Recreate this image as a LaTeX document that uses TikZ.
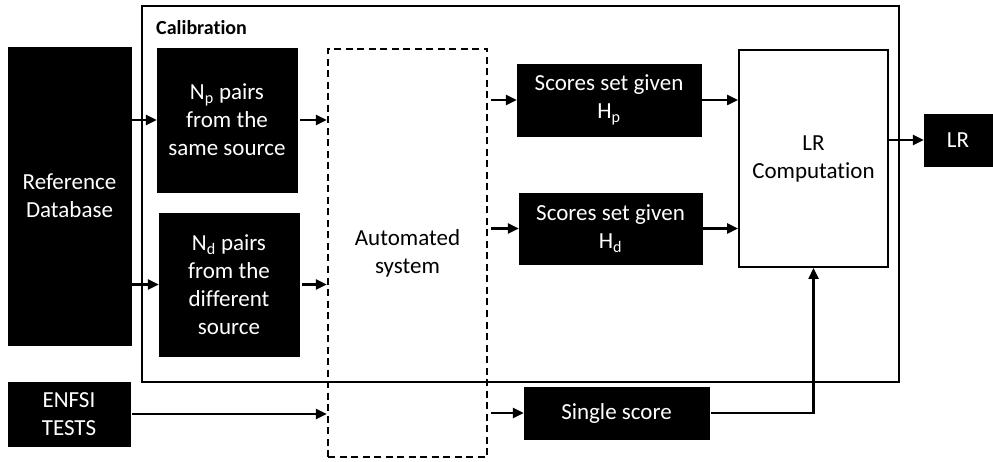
\documentclass[tikz,border=0pt]{standalone}
\usepackage{fontspec}
\setmainfont{Carlito}[Ligatures=NoCommon]
\usetikzlibrary{arrows.meta}
\begin{document}
\begin{tikzpicture}[x=1pt,y=-1pt,
  every node/.style={font=\fontsize{23}{28}\selectfont, align=center, inner sep=0pt},
  blackbox/.style={fill=black, draw=black, text=white},
  whitebox/.style={draw=black, line width=2pt, fill=white},
  dashbox/.style={draw=black, line width=2.2pt, dash pattern=on 7pt off 4.5pt},
  flow/.style={line width=2.4pt, -{Triangle[length=11pt,width=10pt]}}]
\useasboundingbox (0,0) rectangle (993,462);

% calibration frame and its title
\draw[line width=1.8pt] (142,6) rectangle (899,382);
\node[anchor=west, font=\fontsize{20}{24}\selectfont\bfseries] (caltitle) at (156,28) {Calibration};

% source boxes
\node[blackbox, minimum width=123pt, minimum height=298pt] (refdb) at (69.5,196) {Reference\\Database};
\node[blackbox, minimum width=122pt, minimum height=64pt] (enfsi) at (69,414) {ENFSI\\TESTS};

% pair sets
\node[blackbox, minimum width=140pt, minimum height=144pt] (np) at (227,120) {N\textsubscript{p} pairs\\from the\\same source};
\node[blackbox, minimum width=140pt, minimum height=143pt] (nd) at (229,284.5) {N\textsubscript{d} pairs\\from the\\different\\source};

% automated system
\node[dashbox, minimum width=159pt, minimum height=408pt] (auto) at (407.5,253) {Automated\\system};

% score sets
\node[blackbox, minimum width=184pt, minimum height=72pt] (hp) at (609,100) {Scores set given\\H\textsubscript{p}};
\node[blackbox, minimum width=183pt, minimum height=71pt] (hd) at (610.5,228.5) {Scores set given\\H\textsubscript{d}};
\node[blackbox, minimum width=185pt, minimum height=52pt] (single) at (616.5,413) {Single score};

% likelihood ratio
\node[whitebox, minimum width=149pt, minimum height=217pt] (lrc) at (813.5,158.5) {LR\\Computation};
\node[blackbox, minimum width=68pt, minimum height=52pt] (lr) at (958,140) {LR};

% connectors
\draw[flow] (refdb.east |- np.west) -- (np.west);
\draw[flow] (refdb.east |- nd.west) -- (nd.west);
\draw[flow] ([xshift=3pt]np.east) -- (np.east -| auto.west);
\draw[flow] ([xshift=3pt]nd.east) -- (nd.east -| auto.west);
\draw[flow] ([xshift=2pt]enfsi.east) -- (enfsi.east -| auto.west);
\draw[flow] ([xshift=3pt]hp.west -| auto.east) -- (hp.west);
\draw[flow] ([xshift=3pt]hd.west -| auto.east) -- (hd.west);
\draw[flow] ([xshift=3pt]single.west -| auto.east) -- (single.west);
\draw[flow] (hp.east) -- (hp.east -| lrc.west);
\draw[flow] (hd.east) -- (hd.east -| lrc.west);
\draw[flow] (lr.west -| lrc.east) -- (lr.west);
\draw[flow] ([xshift=2pt]single.east) -| (lrc.south);
\end{tikzpicture}
\end{document}
